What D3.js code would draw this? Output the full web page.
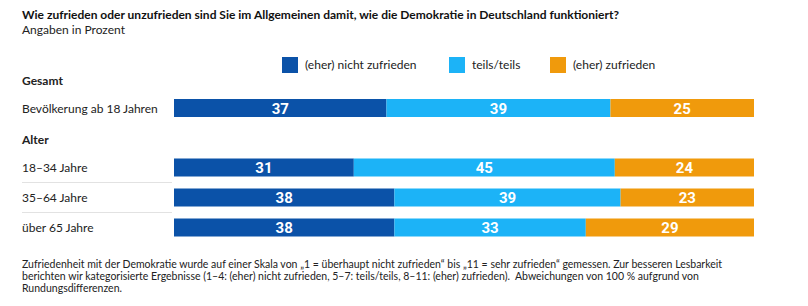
<!DOCTYPE html>
<html>
<head>
<meta charset="utf-8">
<script src="https://cdn.jsdelivr.net/npm/d3@7"></script>
<style>
  body { margin: 0; background: #fff; }
  text { font-family: Lato, "Open Sans", sans-serif; }
</style>
</head>
<body>
<div class="module"></div>
<script>
// data
const groups = ["Bevölkerung ab 18 Jahren", "18–34 Jahre", "35–64 Jahre", "über 65 Jahre"];
const sections = ["Gesamt", "Alter", "Alter", "Alter"];
const categories = ["(eher) nicht zufrieden", "teils/teils", "(eher) zufrieden"];
const nichtZufrieden = [37, 31, 38, 38];
const teilsTeils = [39, 45, 39, 33];
const zufrieden = [25, 24, 23, 29];
const colors = ["#0b52a8", "#1cb3f7", "#f09a0c"];

drawChart(d3.select('.module').node());

function drawChart(rootDOM) {
  const W = 808;
  const H = 306;

  const svg = d3.select(rootDOM)
    .append('svg')
    .attr('width', W)
    .attr('height', H);

  // title
  svg.append('text')
    .attr('x', 22).attr('y', 19)
    .style('font-size', '12px')
    .style('font-weight', 'bold')
    .style('fill', '#111')
    .text("Wie zufrieden oder unzufrieden sind Sie im Allgemeinen damit, wie die Demokratie in Deutschland funktioniert?");
  svg.append('text')
    .attr('x', 22).attr('y', 34)
    .style('font-size', '12px')
    .style('fill', '#222')
    .text("Angaben in Prozent");

  // legend
  const legendX = [282, 449, 550];
  const leg = svg.selectAll('.leg')
    .data(categories)
    .enter().append('g')
    .attr('class', 'leg')
    .attr('transform', (d, i) => `translate(${legendX[i]}, 57)`);
  leg.append('rect')
    .attr('width', 16).attr('height', 16)
    .style('fill', (d, i) => colors[i]);
  leg.append('text')
    .attr('x', 23).attr('y', 12)
    .style('font-size', '12px')
    .style('fill', '#222')
    .text(d => d);

  const rowY = [99, 158.5, 188.5, 218.5];
  const barH = 18;

  // section headers
  svg.append('text').attr('x', 22).attr('y', 85)
    .style('font-size', '12px').style('font-weight', 'bold').style('fill', '#222')
    .text("Gesamt");
  svg.append('text').attr('x', 22).attr('y', 144)
    .style('font-size', '12px').style('font-weight', 'bold').style('fill', '#222')
    .text("Alter");

  // separators
  [182.5, 212.5].forEach(y => {
    svg.append('line')
      .attr('x1', 22).attr('x2', 172)
      .attr('y1', y).attr('y2', y)
      .style('stroke', '#e2e2e2')
      .style('stroke-width', 1);
  });

  const rows = groups.map((g, i) => {
    const vals = [nichtZufrieden[i], teilsTeils[i], zufrieden[i]];
    const total = d3.sum(vals);
    let acc = 0;
    const segs = vals.map((v, k) => {
      const s = { v: v, x0: acc / total, x1: (acc + v) / total, k: k };
      acc += v;
      return s;
    });
    return { name: g, section: sections[i], y: rowY[i], segs: segs };
  });

  const x = d3.scaleLinear().domain([0, 1]).range([174, 754]);

  const rowG = svg.selectAll('.row')
    .data(rows)
    .enter().append('g')
    .attr('class', 'row')
    .attr('transform', d => `translate(0, ${d.y})`);

  rowG.append('text')
    .attr('x', 22).attr('y', barH / 2 + 4.5)
    .style('font-size', '12px')
    .style('fill', '#222')
    .text(d => d.name);

  const seg = rowG.selectAll('.seg')
    .data(d => d.segs)
    .enter().append('g')
    .attr('class', 'seg');

  seg.append('rect')
    .attr('x', d => x(d.x0))
    .attr('width', d => x(d.x1) - x(d.x0))
    .attr('height', barH)
    .style('fill', d => colors[d.k]);

  seg.append('text')
    .attr('x', d => (x(d.x0) + x(d.x1)) / 2)
    .attr('y', barH / 2 + 5.5)
    .attr('text-anchor', 'middle')
    .style('font-family', 'Roboto, sans-serif')
    .style('font-size', '15px')
    .style('font-weight', 'bold')
    .style('fill', '#fff')
    .text(d => d.v);

  // footnote
  const notes = [
    "Zufriedenheit mit der Demokratie wurde auf einer Skala von „1 = überhaupt nicht zufrieden“ bis „11 = sehr zufrieden“ gemessen. Zur besseren Lesbarkeit",
    "berichten wir kategorisierte Ergebnisse (1–4: (eher) nicht zufrieden, 5–7: teils/teils, 8–11: (eher) zufrieden).  Abweichungen von 100 % aufgrund von",
    "Rundungsdifferenzen."
  ];
  svg.selectAll('.note')
    .data(notes)
    .enter().append('text')
    .attr('class', 'note')
    .attr('x', 22)
    .attr('y', (d, i) => 268 + i * 12)
    .style('font-size', '10.5px')
    .style('white-space', 'pre')
    .style('fill', '#222')
    .text(d => d);
}
</script>
</body>
</html>
